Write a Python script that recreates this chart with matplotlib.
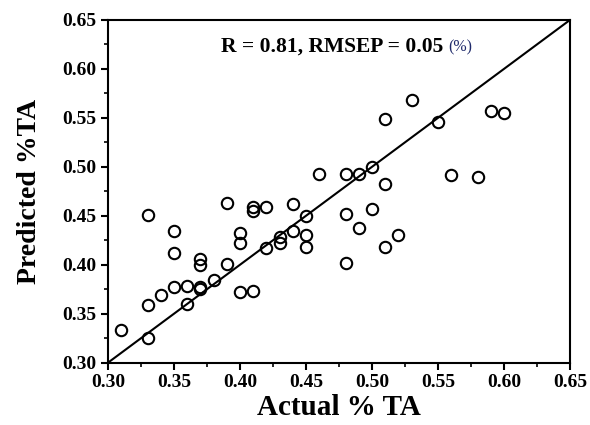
import matplotlib.pyplot as plt
from matplotlib.ticker import MultipleLocator

# measured vs predicted % TA
actual = [0.31, 0.33, 0.33, 0.33, 0.34, 0.35, 0.35, 0.35, 0.36, 0.36,
          0.37, 0.37, 0.37, 0.37, 0.38, 0.39, 0.39, 0.40, 0.40, 0.40,
          0.41, 0.41, 0.41, 0.42, 0.42, 0.43, 0.43, 0.44, 0.44, 0.45,
          0.45, 0.45, 0.46, 0.48, 0.48, 0.48, 0.49, 0.49, 0.50, 0.50,
          0.51, 0.51, 0.51, 0.52, 0.53, 0.55, 0.56, 0.58, 0.59, 0.60]
predicted = [0.333, 0.325, 0.359, 0.451, 0.369, 0.377, 0.412, 0.434, 0.378, 0.360,
             0.377, 0.375, 0.406, 0.400, 0.384, 0.401, 0.463, 0.432, 0.422, 0.372,
             0.373, 0.459, 0.455, 0.459, 0.417, 0.422, 0.428, 0.462, 0.434, 0.450,
             0.430, 0.418, 0.493, 0.493, 0.452, 0.402, 0.493, 0.438, 0.500, 0.457,
             0.549, 0.482, 0.418, 0.430, 0.568, 0.546, 0.492, 0.490, 0.557, 0.555]

plt.rcParams['font.family'] = ['Liberation Serif', 'DejaVu Serif']
plt.rcParams['font.weight'] = 'bold'

fig = plt.figure(figsize=(5.9, 4.25), dpi=100)
ax = fig.add_axes([0.183, 0.1466, 0.783, 0.8064])

ax.plot([0.30, 0.65], [0.30, 0.65], color='black', lw=1.5)
ax.plot(actual, predicted, 'o', mfc='none', mec='black', ms=8.2, mew=1.5)

ax.set_xlim(0.30, 0.65)
ax.set_ylim(0.30, 0.65)
ax.xaxis.set_major_locator(MultipleLocator(0.05))
ax.yaxis.set_major_locator(MultipleLocator(0.05))
ax.xaxis.set_minor_locator(MultipleLocator(0.025))
ax.yaxis.set_minor_locator(MultipleLocator(0.025))
ax.tick_params(which='major', direction='out', length=5, width=1.5, labelsize=14, pad=3)
ax.tick_params(which='minor', direction='out', length=3, width=1.2)
ax.xaxis.set_major_formatter(lambda v, p: f'{v:.2f}')
ax.yaxis.set_major_formatter(lambda v, p: f'{v:.2f}')
for s in ax.spines.values():
    s.set_linewidth(1.5)

ax.set_xlabel('Actual % TA', fontsize=21, fontweight='bold', labelpad=2)
ax.set_ylabel('Predicted %TA', fontsize=20, fontweight='bold', labelpad=15)

ax.text(0.3856, 0.6225, 'R = 0.81, RMSEP = 0.05', fontsize=15.5, fontweight='bold', va='center')
ax.text(0.5576, 0.6225, '(%)', fontsize=11.5, fontweight='normal', color='#1f2a6b', va='center')

fig.savefig('out.png', dpi=100)
